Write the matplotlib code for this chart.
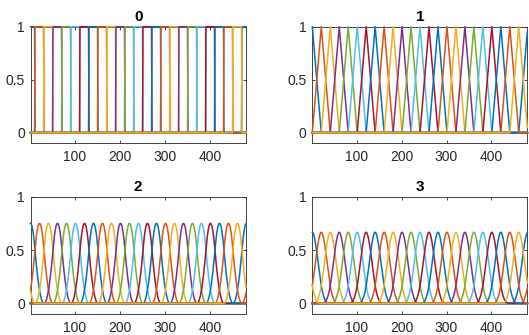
import numpy as np
import matplotlib
matplotlib.use("Agg")
from matplotlib import pyplot as plt

# sample points along x and the knot centres of the 24 periodic basis functions
x = np.arange(1, 481)
centres = [1, 21, 41, 61, 81, 101, 121, 141, 161, 181, 201, 221,
           241, 261, 281, 301, 321, 341, 361, 381, 401, 421, 441, 461]
spacing = 20
period = 480
degrees = [0, 1, 2, 3]
titles = ["0", "1", "2", "3"]

# MATLAB default colour order
colours = ["#0072BD", "#D95319", "#EDB120", "#7E2F8E",
           "#77AC30", "#4DBEEE", "#A2142F"]


# centred cardinal B-spline of a given degree (Cox-de Boor on unit knots)
def bspline(t, deg):
    t = t + (deg + 1) / 2.0
    def N(t, k):
        if k == 0:
            return ((t >= 0) & (t < 1)).astype(float)
        return (t * N(t, k - 1) + (k + 1 - t) * N(t - 1, k - 1)) / k
    return N(t, deg)


plt.rcParams['font.family'] = ['Liberation Sans', 'DejaVu Sans']
fig = plt.figure(figsize=(5.29, 3.35), dpi=100)
W, H = 529.0, 335.0
# axes boxes in pixels: left, top, right, bottom
boxes = [(30.5, 26.7, 246, 143.3), (312.3, 26.7, 527.3, 143.3),
         (30.5, 196.7, 246, 314), (312.3, 196.7, 527.3, 314)]

for deg, title, (l, t, r, b) in zip(degrees, titles, boxes):
    ax = fig.add_axes([l / W, 1 - b / H, (r - l) / W, (b - t) / H])
    for i, c in enumerate(centres):
        d = np.mod(x - c + period / 2, period) - period / 2
        ax.plot(x, bspline(d / spacing, deg), color=colours[i % 7], lw=1.1,
                zorder=3, clip_on=False)
    ax.set_xlim(1, 480)
    ax.set_ylim(-0.1, 1)
    ax.set_xticks([100, 200, 300, 400])
    ax.set_yticks([0, 0.5, 1])
    ax.set_yticklabels(["0", "0.5", "1"])
    ax.tick_params(direction='in', top=True, right=True, length=2.5,
                   width=0.6, labelsize=10, colors='#262626')
    ax.tick_params(axis='x', pad=5)
    ax.tick_params(axis='y', pad=4)
    for s in ax.spines.values():
        s.set_color('#262626')
        s.set_linewidth(0.6)
    ax.set_title(title, fontsize=11, fontweight='bold', pad=4)

plt.savefig("out.png", dpi=100)
